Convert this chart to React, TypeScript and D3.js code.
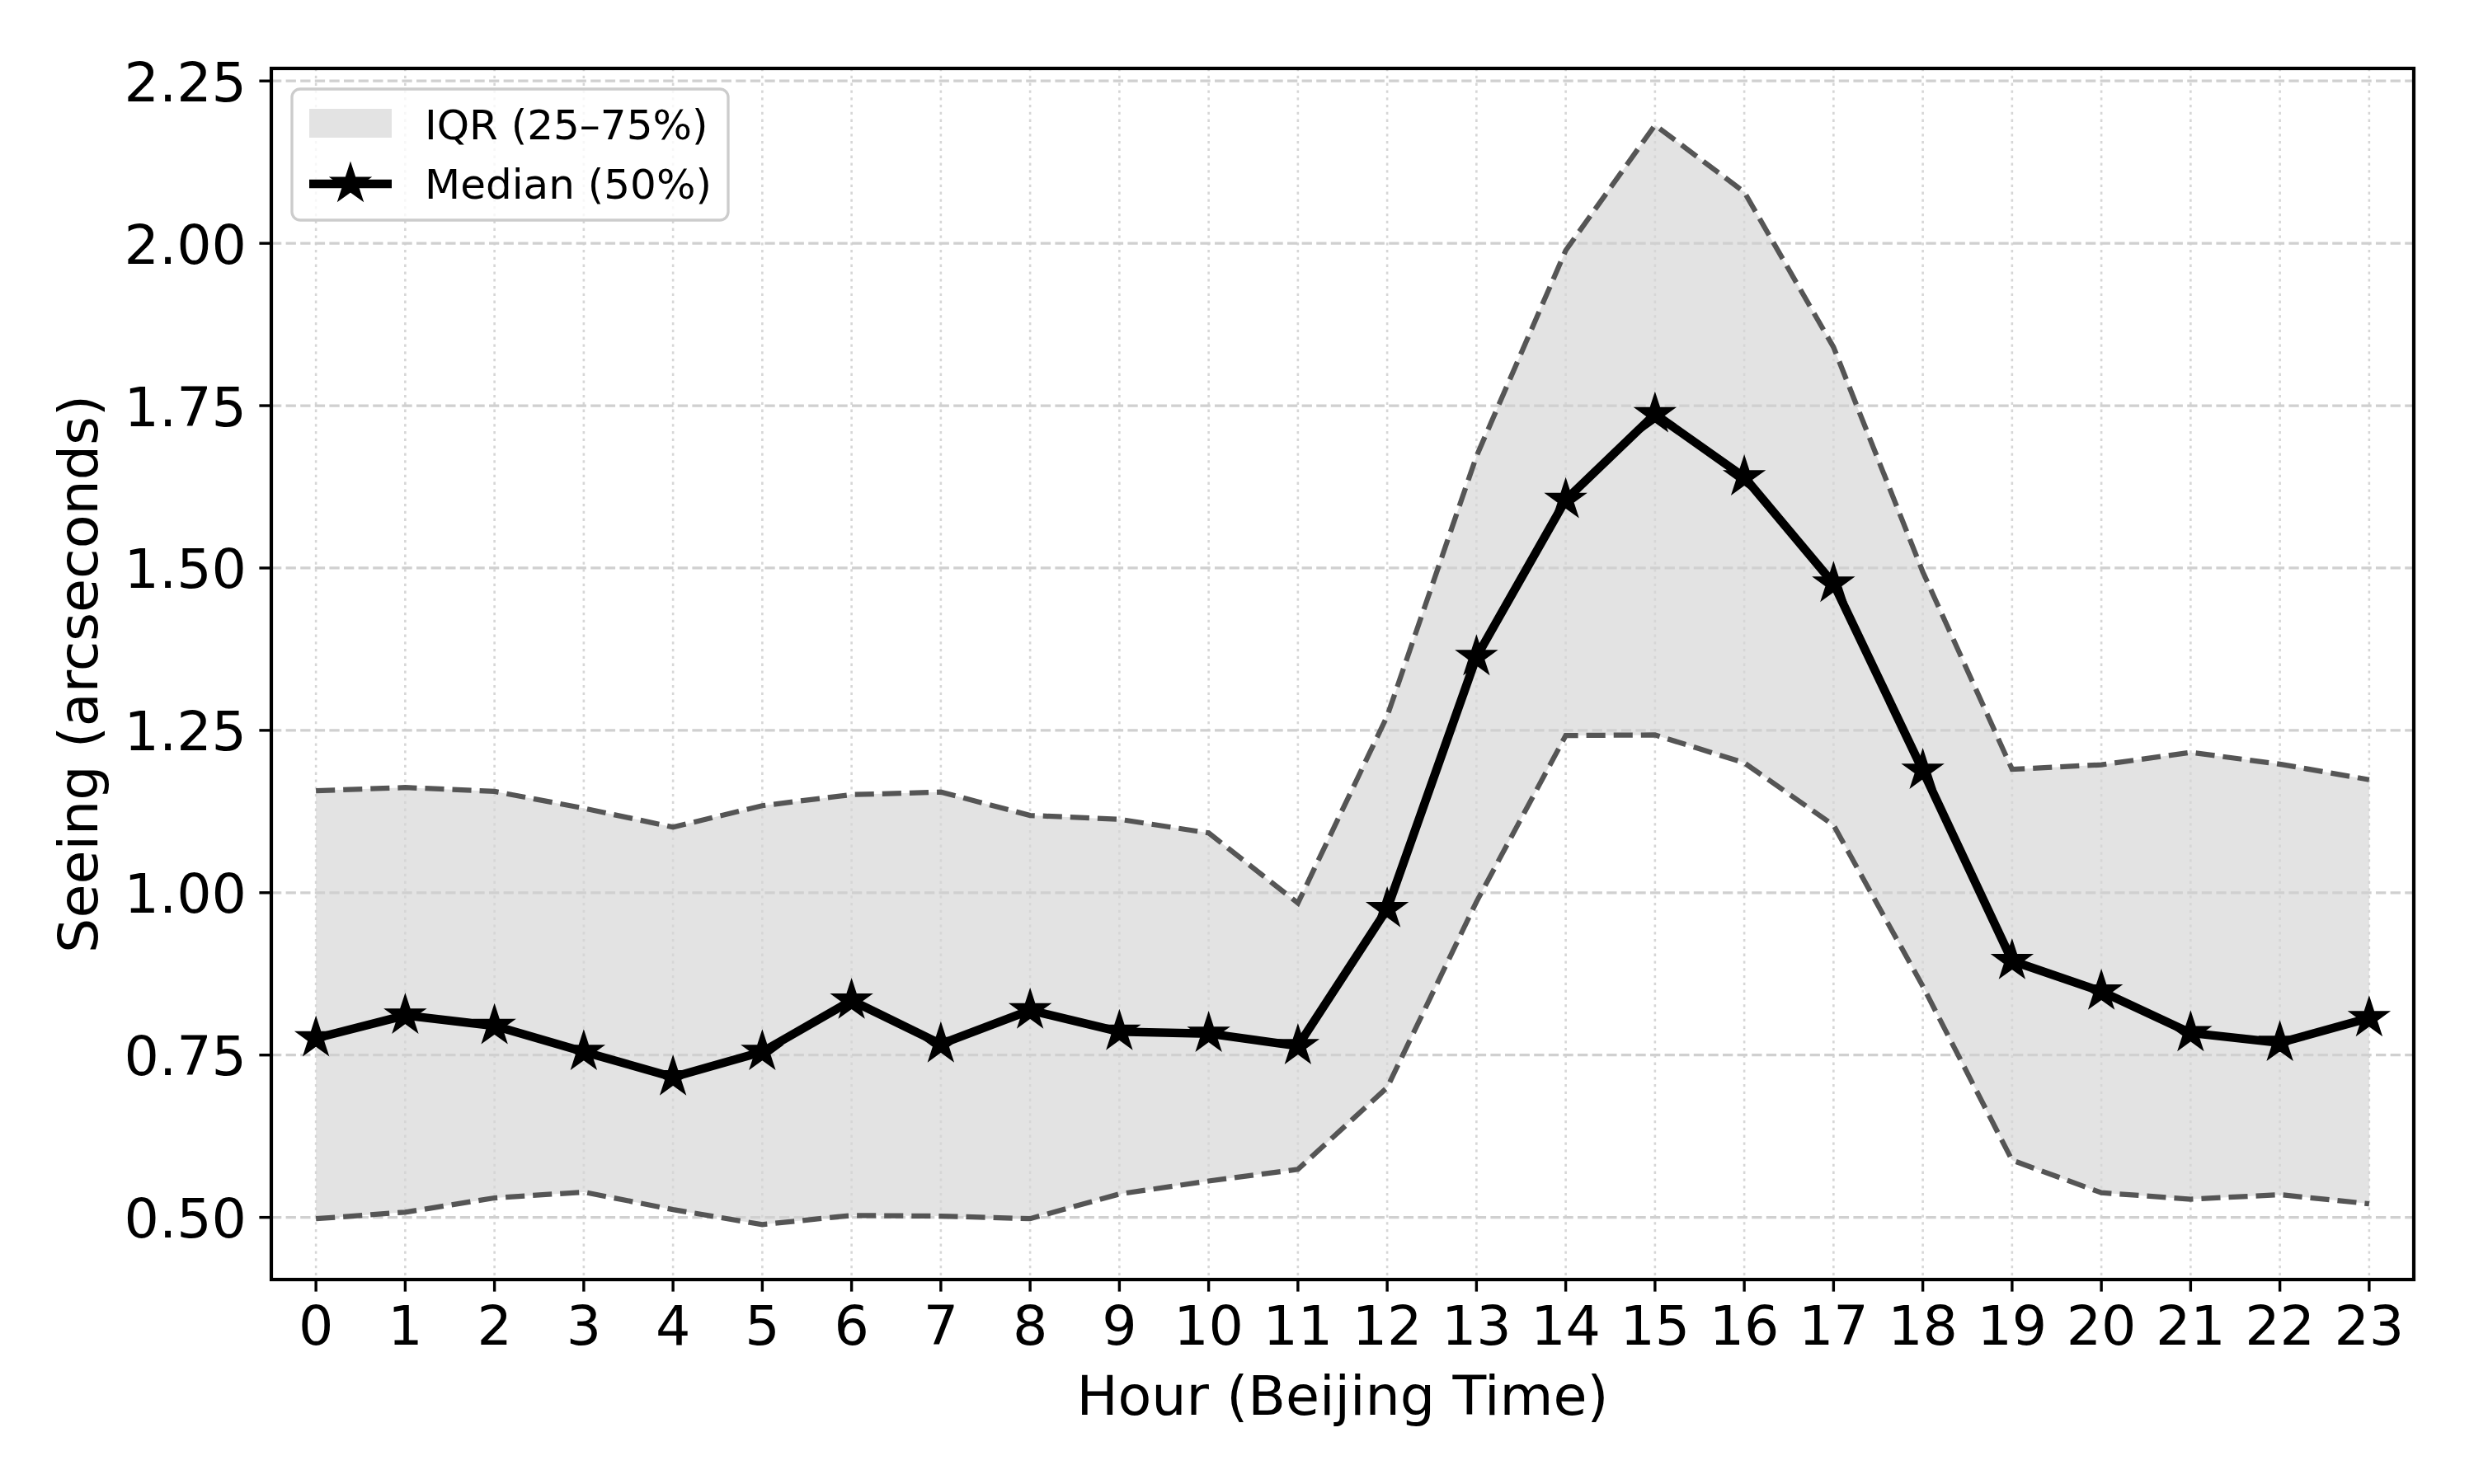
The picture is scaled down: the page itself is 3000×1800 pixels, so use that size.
import React from "react";
import * as d3 from "d3";

const hours: number[] = Array.from({ length: 24 }, (_, i) => i);
const median: number[] = [
  0.776, 0.811, 0.795, 0.755, 0.716, 0.755, 0.834, 0.767, 0.819, 0.786, 0.783, 0.764,
  0.975, 1.363, 1.605, 1.737, 1.640, 1.476, 1.188, 0.895, 0.848, 0.784, 0.769, 0.807,
];
const q75: number[] = [
  1.157, 1.162, 1.156, 1.130, 1.101, 1.134, 1.151, 1.155, 1.119, 1.113, 1.092, 0.984,
  1.272, 1.672, 1.989, 2.182, 2.079, 1.840, 1.494, 1.190, 1.197, 1.216, 1.198, 1.174,
];
const q25: number[] = [
  0.498, 0.508, 0.530, 0.539, 0.512, 0.489, 0.503, 0.502, 0.498, 0.536, 0.556, 0.574,
  0.700, 0.986, 1.242, 1.243, 1.200, 1.104, 0.856, 0.588, 0.538, 0.528, 0.535, 0.521,
];
const yTicks: number[] = [0.5, 0.75, 1.0, 1.25, 1.5, 1.75, 2.0, 2.25];
const xLabel = "Hour (Beijing Time)";
const yLabel = "Seeing (arcseconds)";
const legendLabels = ["IQR (25\u201375%)", "Median (50%)"];

const W = 3000, H = 1800;
const L = 329, R = 2927, T = 83, B = 1552;
const FONT = "'DejaVu Sans', sans-serif";

const x = d3.scaleLinear().domain([-0.5, 23.5]).range([L, R]);
const y = d3.scaleLinear().domain([0.4043, 2.2693]).range([B, T]);

function starPath(r: number): string {
  const inner = 0.381966;
  const pts: [number, number][] = [];
  for (let i = 0; i < 10; i++) {
    const a = Math.PI / 2 + (i * Math.PI) / 5;
    const rr = i % 2 === 0 ? r : r * inner;
    pts.push([rr * Math.cos(a), -rr * Math.sin(a)]);
  }
  return "M" + pts.map((p) => p[0].toFixed(2) + "," + p[1].toFixed(2)).join("L") + "Z";
}

export default function App() {
  const area = d3
    .area<number>()
    .x((d) => x(d))
    .y0((d) => y(q25[d]))
    .y1((d) => y(q75[d]));
  const lineOf = (arr: number[]) =>
    d3
      .line<number>()
      .x((d) => x(d))
      .y((d) => y(arr[d]))(hours) as string;
  const star = starPath(20.8);
  const dash = "23.1 10";

  return (
    <svg
      width={W}
      height={H}
      style={{ position: "absolute", left: 0, top: 0, background: "#fff" }}
      fontFamily={FONT}
    >
      <rect x={0} y={0} width={W} height={H} fill="#fff" />
      {/* IQR fill */}
      <path d={area(hours) as string} fill="#e3e3e3" stroke="none" />
      {/* grid */}
      {hours.map((h) => (
        <line
          key={"xg" + h}
          x1={x(h)}
          x2={x(h)}
          y1={T}
          y2={B}
          stroke="#d6d6d6"
          strokeWidth={2.6}
          strokeDasharray="3.3 5.5"
        />
      ))}
      {yTicks.map((v) => (
        <line
          key={"yg" + v}
          x1={L}
          x2={R}
          y1={y(v)}
          y2={y(v)}
          stroke="#d0d0d0"
          strokeWidth={3.3}
          strokeDasharray="12.3 5.3"
        />
      ))}
      {/* quartile lines */}
      <path d={lineOf(q75)} fill="none" stroke="#555555" strokeWidth={6.25} strokeDasharray={dash} />
      <path d={lineOf(q25)} fill="none" stroke="#555555" strokeWidth={6.25} strokeDasharray={dash} />
      {/* median */}
      <path d={lineOf(median)} fill="none" stroke="#000" strokeWidth={10.4} strokeLinejoin="round" />
      {hours.map((h) => (
        <path
          key={"st" + h}
          d={star}
          transform={`translate(${x(h)},${y(median[h])})`}
          fill="#000"
          stroke="#000"
          strokeWidth={4.2}
          strokeLinejoin="miter"
        />
      ))}
      {/* spines */}
      <rect x={L} y={T} width={R - L} height={B - T} fill="none" stroke="#000" strokeWidth={4.2} />
      {/* x ticks */}
      {hours.map((h) => (
        <g key={"xt" + h}>
          <line x1={x(h)} x2={x(h)} y1={B} y2={B + 14.6} stroke="#000" strokeWidth={3.4} />
          <text x={x(h)} y={1631} fontSize={66.7} textAnchor="middle" fill="#000">
            {h}
          </text>
        </g>
      ))}
      {/* y ticks */}
      {yTicks.map((v) => (
        <g key={"yt" + v}>
          <line x1={L - 14.6} x2={L} y1={y(v)} y2={y(v)} stroke="#000" strokeWidth={3.4} />
          <text x={299} y={y(v) + 24.5} fontSize={66.7} textAnchor="end" fill="#000">
            {v.toFixed(2)}
          </text>
        </g>
      ))}
      {/* axis labels */}
      <text x={(L + R) / 2} y={1716} fontSize={66.7} textAnchor="middle" fill="#000">
        {xLabel}
      </text>
      <text
        transform={`translate(118,${(T + B) / 2}) rotate(-90)`}
        fontSize={66.7}
        textAnchor="middle"
        fill="#000"
      >
        {yLabel}
      </text>
      {/* legend */}
      <g>
        <rect
          x={354}
          y={108}
          width={529}
          height={159}
          rx={10}
          ry={10}
          fill="#fff"
          fillOpacity={0.8}
          stroke="#cccccc"
          strokeWidth={3.3}
        />
        <rect x={375} y={132} width={100} height={35} fill="#e3e3e3" />
        <text x={515} y={169} fontSize={50} fill="#000">
          {legendLabels[0]}
        </text>
        <line x1={375} x2={475} y1={223} y2={223} stroke="#000" strokeWidth={10.4} />
        <path d={star} transform="translate(425,223)" fill="#000" stroke="#000" strokeWidth={4.2} />
        <text x={515} y={241} fontSize={50} fill="#000">
          {legendLabels[1]}
        </text>
      </g>
    </svg>
  );
}
